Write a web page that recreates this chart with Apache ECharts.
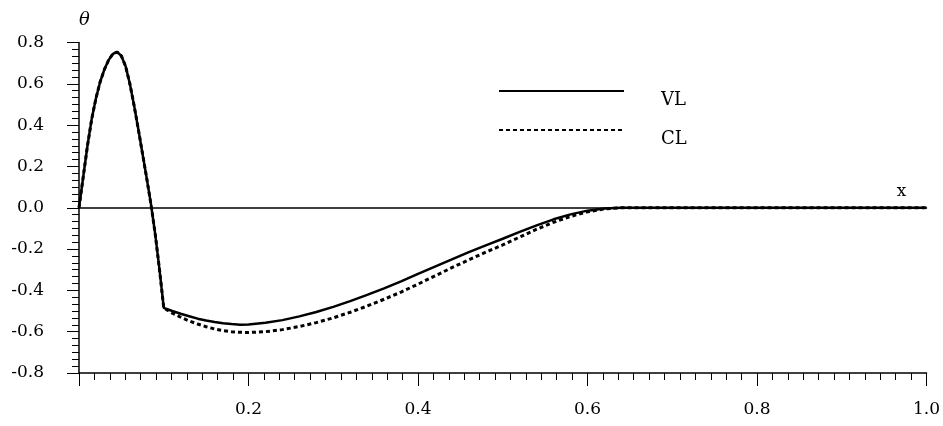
<!DOCTYPE html>
<html>
<head>
<meta charset="utf-8">
<script src="https://cdn.jsdelivr.net/npm/echarts@6/dist/echarts.min.js"></script>
<style>
    html, body { margin: 0; padding: 0; background: #fff; }
    #chart { width: 943px; height: 426px; }
</style>
</head>
<body>
<div id="chart"></div>
<script>
// x positions shared by both curves
const xs = [
    0, 0.005, 0.01, 0.015, 0.02, 0.025, 0.03, 0.035, 0.04, 0.045, 0.05,
    0.055, 0.06, 0.065, 0.07, 0.075, 0.08, 0.085, 0.09, 0.095, 0.1,
    0.11, 0.12, 0.13, 0.14, 0.15, 0.16, 0.17, 0.18, 0.19, 0.2,
    0.22, 0.24, 0.26, 0.28, 0.3, 0.32, 0.34, 0.36, 0.38, 0.4,
    0.42, 0.44, 0.46, 0.48, 0.5, 0.52, 0.54, 0.56, 0.58, 0.6, 0.62, 0.64,
    0.7, 0.8, 0.9, 1.0
];

// VL (solid)
const vlTheta = [
    0, 0.15, 0.3, 0.43, 0.53, 0.61, 0.67, 0.715, 0.745, 0.754, 0.735,
    0.685, 0.6, 0.495, 0.38, 0.26, 0.14, 0.015, -0.13, -0.3, -0.485,
    -0.5, -0.513, -0.525, -0.537, -0.546, -0.553, -0.559, -0.563, -0.566, -0.565,
    -0.557, -0.544, -0.526, -0.505, -0.48, -0.452, -0.422, -0.39, -0.356, -0.32,
    -0.285, -0.25, -0.215, -0.182, -0.15, -0.117, -0.085, -0.056, -0.032, -0.014, -0.004, 0,
    0, 0, 0, 0
];

// CL (dotted)
const clTheta = [
    0, 0.15, 0.3, 0.43, 0.53, 0.61, 0.67, 0.715, 0.745, 0.754, 0.735,
    0.685, 0.6, 0.495, 0.38, 0.26, 0.14, 0.015, -0.13, -0.3, -0.485,
    -0.51, -0.53, -0.548, -0.563, -0.576, -0.587, -0.595, -0.6, -0.603, -0.604,
    -0.6, -0.59, -0.575, -0.556, -0.533, -0.506, -0.476, -0.443, -0.408, -0.37,
    -0.33, -0.29, -0.252, -0.215, -0.18, -0.142, -0.104, -0.07, -0.042, -0.02, -0.006, 0,
    0, 0, 0, 0
];

const seriesNames = ['VL', 'CL'];

const FONT = 'DejaVu Serif';
const pair = (arr) => xs.map((x, i) => [x, arr[i]]);

const chart = echarts.init(document.getElementById('chart'), null, { renderer: 'canvas' });

const option = {
    animation: false,
    backgroundColor: '#fff',
    grid: { left: 79, right: 14, top: 42.5, bottom: 53 },
    legend: {
        orient: 'vertical',
        left: 498,
        top: 71.5,
        padding: 0,
        itemGap: 0,
        itemWidth: 125,
        itemHeight: 14,
        data: seriesNames,
        // hide the symbol dot, keep only the line
        itemStyle: { color: 'transparent', borderColor: 'transparent', borderWidth: 0 },
        // empty first line pushes the label below the sample line
        formatter: name => '\n' + name,
        textStyle: {
            fontFamily: FONT,
            fontSize: 18,
            color: '#000',
            lineHeight: 19.5,
            padding: [0, 0, 0, 32]
        }
    },
    xAxis: [
        {
            type: 'value',
            position: 'bottom',
            min: 0,
            max: 1,
            interval: 0.2,
            axisLine: { onZero: false, lineStyle: { color: '#000', width: 1.5 } },
            axisTick: { show: true, inside: false, length: 13, lineStyle: { color: '#000', width: 1 } },
            minorTick: { show: true, splitNumber: 11, length: 7, lineStyle: { color: '#000', width: 1 } },
            splitLine: { show: false },
            axisLabel: {
                margin: 28,
                fontFamily: FONT,
                fontSize: 17,
                color: '#000',
                formatter: v => (v === 0 ? '' : v.toFixed(1))
            }
        },
        {
            // zero line with the "x" name
            type: 'value',
            position: 'top',
            min: 0,
            max: 1,
            name: 'x',
            nameLocation: 'end',
            nameGap: -25,
            nameTextStyle: {
                fontFamily: FONT,
                fontSize: 17,
                color: '#000',
                align: 'center',
                verticalAlign: 'bottom',
                padding: [0, 0, 8, 0]
            },
            axisLine: { onZero: true, lineStyle: { color: '#000', width: 1.5 } },
            axisTick: { show: false },
            axisLabel: { show: false },
            splitLine: { show: false }
        }
    ],
    yAxis: {
        type: 'value',
        min: -0.8,
        max: 0.8,
        interval: 0.2,
        name: 'θ',
        nameLocation: 'end',
        nameGap: 13,
        nameTextStyle: {
            fontFamily: FONT,
            fontSize: 18,
            fontStyle: 'italic',
            color: '#000',
            align: 'left'
        },
        axisLine: { onZero: false, lineStyle: { color: '#000', width: 1.5 } },
        axisTick: { show: true, inside: false, length: 12, lineStyle: { color: '#000', width: 1 } },
        minorTick: { show: true, splitNumber: 6, length: 7, lineStyle: { color: '#000', width: 1 } },
        splitLine: { show: false },
        axisLabel: {
            margin: 35,
            fontFamily: FONT,
            fontSize: 17,
            color: '#000',
            formatter: v => v.toFixed(1)
        }
    },
    series: [
        {
            name: seriesNames[0],
            type: 'line',
            xAxisIndex: 0,
            data: pair(vlTheta),
            symbol: 'none',
            lineStyle: { color: '#000', width: 2.5, type: 'solid' },
            itemStyle: { color: '#000' }
        },
        {
            name: seriesNames[1],
            type: 'line',
            xAxisIndex: 0,
            data: pair(clTheta),
            symbol: 'none',
            lineStyle: { color: '#000', width: 3, type: [4, 3] },
            itemStyle: { color: '#000' }
        }
    ]
};

chart.setOption(option);
</script>
</body>
</html>
